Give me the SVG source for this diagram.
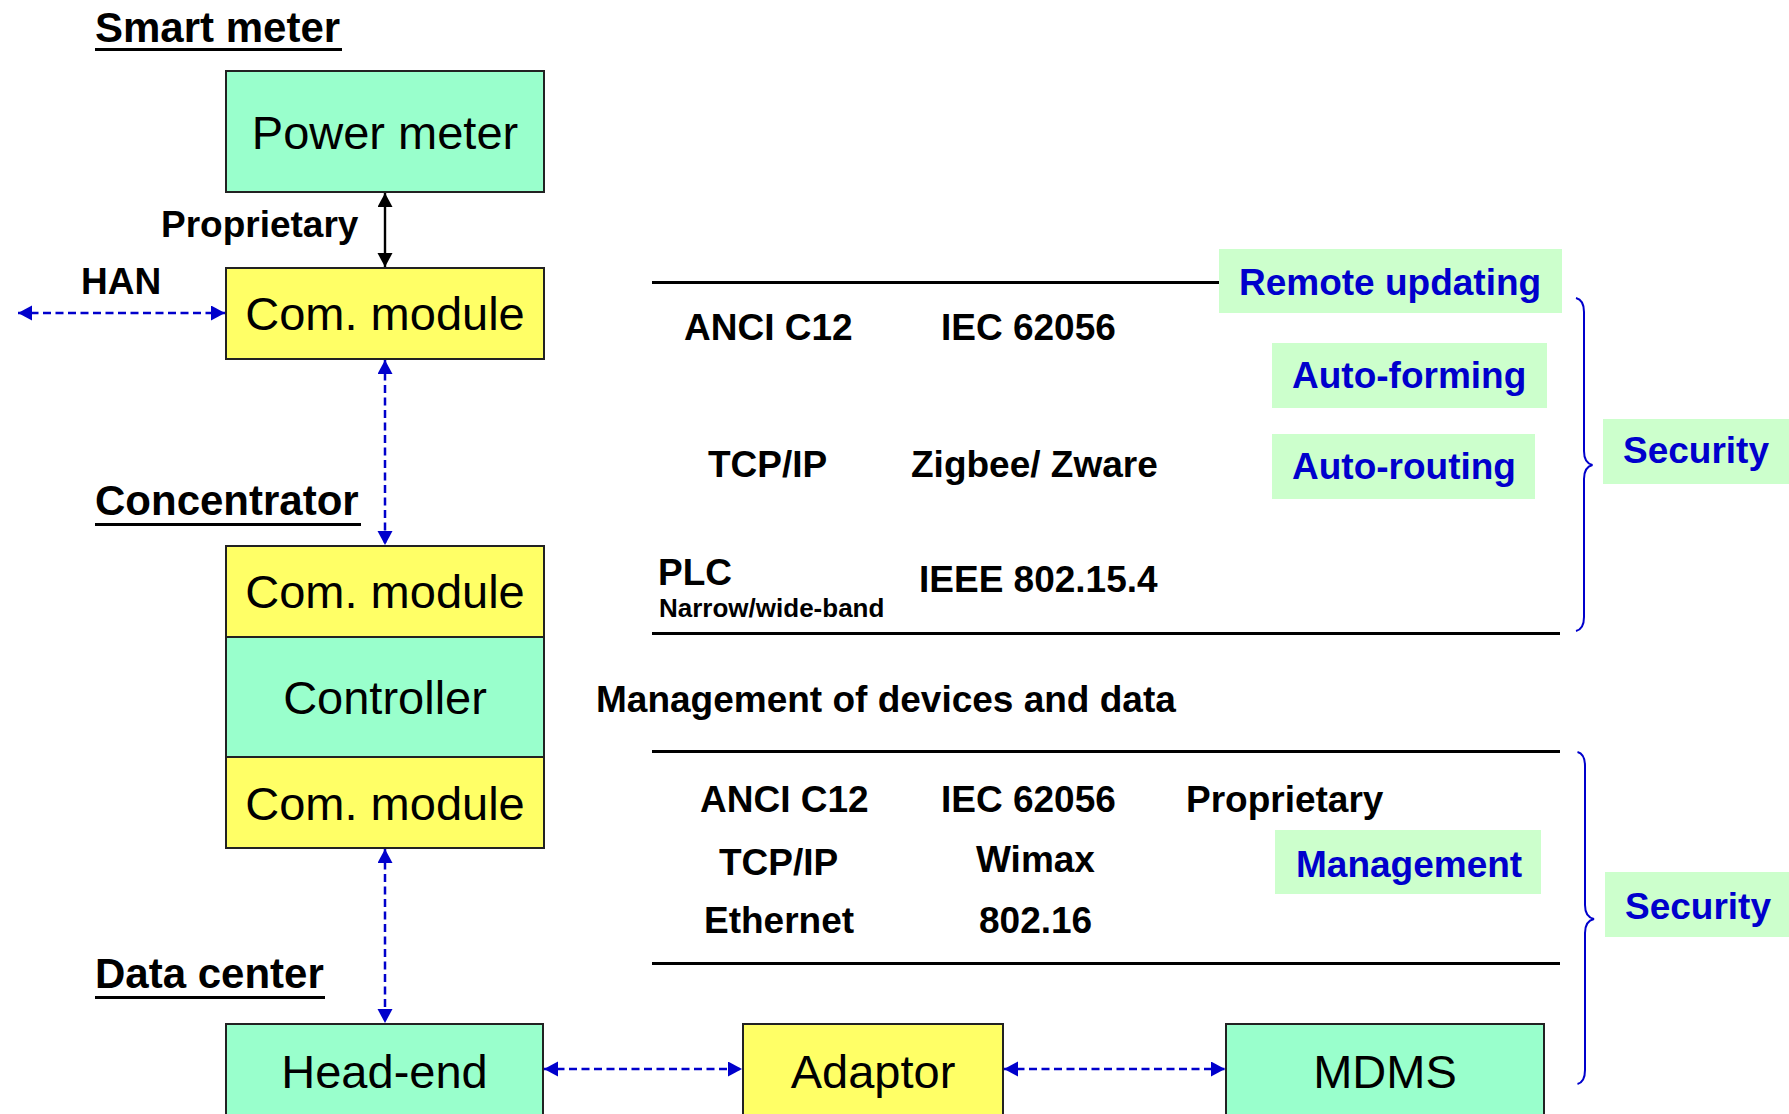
<svg xmlns="http://www.w3.org/2000/svg" width="1789" height="1114" viewBox="0 0 1789 1114">
<style>
.box{stroke:#222;stroke-width:2}
.g{fill:#99ffcc}
.y{fill:#ffff66}
.bt{font-family:"Liberation Sans",Arial,sans-serif;font-size:47px;fill:#000;text-anchor:middle}
.h{font-family:"Liberation Sans",Arial,sans-serif;font-size:42px;font-weight:bold;fill:#000}
.t{font-family:"Liberation Sans",Arial,sans-serif;font-size:37px;font-weight:bold;fill:#000}
.s{font-family:"Liberation Sans",Arial,sans-serif;font-size:26px;font-weight:bold;fill:#000}
.lbl{fill:#ccffcc}
.bl{font-family:"Liberation Sans",Arial,sans-serif;font-size:37px;font-weight:bold;fill:#0000cc}
.rule{stroke:#000;stroke-width:3}
.ul{stroke:#000;stroke-width:3}
.dash{stroke:#0000cc;stroke-width:2.5;stroke-dasharray:8 4.5;fill:none}
.solid{stroke:#000;stroke-width:2.4;fill:none}
.brace{stroke:#0000cc;stroke-width:2;fill:none}
</style>
<defs>
<marker id="ab" markerUnits="userSpaceOnUse" markerWidth="15" markerHeight="16" refX="14" refY="7.5" orient="auto-start-reverse" viewBox="0 0 15 16">
<path d="M0,0 L14,7.5 L0,15 z" fill="#0000cc"/>
</marker>
<marker id="ak" markerUnits="userSpaceOnUse" markerWidth="15" markerHeight="16" refX="14" refY="7.5" orient="auto-start-reverse" viewBox="0 0 15 16">
<path d="M0,0 L14,7.5 L0,15 z" fill="#000"/>
</marker>
</defs>
<rect width="1789" height="1114" fill="#fff"/>

<!-- section headings -->
<g id="heading-smart-meter">
<text class="h" x="95" y="42">Smart meter</text>
<line class="ul" x1="95" y1="49.5" x2="342" y2="49.5"/>
</g>
<g id="heading-concentrator">
<text class="h" x="95" y="515">Concentrator</text>
<line class="ul" x1="95" y1="524.5" x2="361" y2="524.5"/>
</g>
<g id="heading-data-center">
<text class="h" x="95" y="988">Data center</text>
<line class="ul" x1="95" y1="997.5" x2="325" y2="997.5"/>
</g>

<!-- nodes -->
<g id="power-meter">
<rect class="box g" x="226" y="71" width="318" height="121"/>
<text class="bt" x="385" y="149">Power meter</text>
</g>
<g id="sm-com-module">
<rect class="box y" x="226" y="268" width="318" height="91"/>
<text class="bt" x="385" y="330">Com. module</text>
</g>
<g id="conc-com-module-top">
<rect class="box y" x="226" y="546" width="318" height="91"/>
<text class="bt" x="385" y="608">Com. module</text>
</g>
<g id="conc-controller">
<rect class="box g" x="226" y="637" width="318" height="120"/>
<text class="bt" x="385" y="714">Controller</text>
</g>
<g id="conc-com-module-bottom">
<rect class="box y" x="226" y="757" width="318" height="91"/>
<text class="bt" x="385" y="820">Com. module</text>
</g>
<g id="head-end">
<rect class="box g" x="226" y="1024" width="317" height="110"/>
<text class="bt" x="384.5" y="1088">Head-end</text>
</g>
<g id="adaptor">
<rect class="box y" x="743" y="1024" width="260" height="110"/>
<text class="bt" x="873" y="1088">Adaptor</text>
</g>
<g id="mdms">
<rect class="box g" x="1226" y="1024" width="318" height="110"/>
<text class="bt" x="1385" y="1088">MDMS</text>
</g>

<!-- connectors -->
<g id="connectors">
<line class="solid" x1="385" y1="193" x2="385" y2="267" marker-start="url(#ak)" marker-end="url(#ak)"/>
<line class="dash" x1="18" y1="313" x2="225" y2="313" marker-start="url(#ab)" marker-end="url(#ab)"/>
<line class="dash" x1="385" y1="360" x2="385" y2="545" marker-start="url(#ab)" marker-end="url(#ab)"/>
<line class="dash" x1="385" y1="849" x2="385" y2="1023" marker-start="url(#ab)" marker-end="url(#ab)"/>
<line class="dash" x1="544" y1="1069" x2="742" y2="1069" marker-start="url(#ab)" marker-end="url(#ab)"/>
<line class="dash" x1="1004" y1="1069" x2="1225" y2="1069" marker-start="url(#ab)" marker-end="url(#ab)"/>
</g>

<!-- connector labels -->
<g id="labels-left">
<text class="t" x="161" y="237">Proprietary</text>
<text class="t" x="81" y="294">HAN</text>
</g>

<!-- upper protocol table -->
<g id="upper-table">
<line class="rule" x1="652" y1="282.5" x2="1219" y2="282.5"/>
<text class="t" x="684" y="340">ANCI C12</text>
<text class="t" x="941" y="340">IEC 62056</text>
<text class="t" x="708" y="477">TCP/IP</text>
<text class="t" x="911" y="477">Zigbee/ Zware</text>
<text class="t" x="658" y="585">PLC</text>
<text class="s" x="659" y="617">Narrow/wide-band</text>
<text class="t" x="919" y="592">IEEE 802.15.4</text>
<line class="rule" x1="652" y1="633.5" x2="1560" y2="633.5"/>
</g>

<g id="remote-updating">
<rect class="lbl" x="1219" y="249" width="343" height="64"/>
<text class="bl" x="1239" y="295">Remote updating</text>
</g>
<g id="auto-forming">
<rect class="lbl" x="1272" y="343" width="275" height="65"/>
<text class="bl" x="1292" y="388">Auto-forming</text>
</g>
<g id="auto-routing">
<rect class="lbl" x="1272" y="434" width="263" height="65"/>
<text class="bl" x="1292" y="479">Auto-routing</text>
</g>
<g id="security-1">
<rect class="lbl" x="1603" y="419" width="190" height="65"/>
<text class="bl" x="1623" y="463">Security</text>
</g>
<path class="brace" d="M1576,298 Q1584,300 1584,312 L1584,451 Q1584,463 1592.5,465 Q1584,467 1584,479 L1584,617 Q1584,629 1576,631"/>

<!-- middle text -->
<text class="t" x="596" y="712">Management of devices and data</text>

<!-- lower protocol table -->
<g id="lower-table">
<line class="rule" x1="652" y1="751.5" x2="1560" y2="751.5"/>
<text class="t" x="700" y="812">ANCI C12</text>
<text class="t" x="941" y="812">IEC 62056</text>
<text class="t" x="1186" y="812">Proprietary</text>
<text class="t" x="719" y="875">TCP/IP</text>
<text class="t" x="976" y="872">Wimax</text>
<text class="t" x="704" y="933">Ethernet</text>
<text class="t" x="979" y="933">802.16</text>
<line class="rule" x1="652" y1="963.5" x2="1560" y2="963.5"/>
</g>

<g id="management">
<rect class="lbl" x="1275" y="830" width="266" height="64"/>
<text class="bl" x="1296" y="877">Management</text>
</g>
<g id="security-2">
<rect class="lbl" x="1605" y="872" width="190" height="65"/>
<text class="bl" x="1625" y="919">Security</text>
</g>
<path class="brace" d="M1577.5,752 Q1585,754 1585,766 L1585,905 Q1585,917 1594,919 Q1585,921 1585,933 L1585,1070 Q1585,1082 1577.5,1084"/>
</svg>
